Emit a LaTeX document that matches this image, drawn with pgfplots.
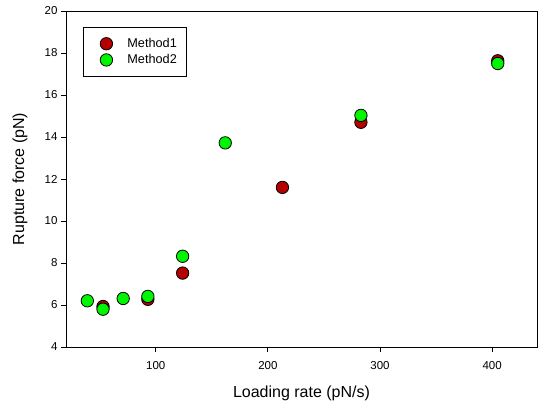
\documentclass[border=0pt]{standalone}
\usepackage{pgfplots}
\pgfplotsset{compat=1.18}
\usepackage{fontspec}
\setmainfont{Liberation Sans}

\definecolor{mredfill}{RGB}{180,0,0}
\definecolor{mgreenfill}{RGB}{0,245,0}

% a single marker, with some room on its left, as the legend symbol
\pgfplotsset{
  dotlegend/.style={
    legend image code/.code={
      \path[draw=none, fill=none] (0pt,-5pt) rectangle (22pt,5pt);
      \draw[##1] plot coordinates {(15pt,0pt)};
    }
  }
}

\begin{document}
\begin{tikzpicture}
% fixed page frame around the axis box
\path[use as bounding box] (-66pt,-60pt) rectangle (473pt,347pt);
\begin{axis}[
  at={(0,0)}, anchor=south west,
  scale only axis,
  width=471pt, height=336pt,
  xmin=20, xmax=440,
  ymin=4, ymax=20,
  xtick={100,200,300,400},
  ytick={4,6,...,20},
  tick align=outside,
  xtick pos=bottom, ytick pos=left,
  major tick length=5pt,
  axis line style={line width=0.8pt},
  every tick/.style={black, line width=0.8pt},
  tick label style={font=\fontsize{11.5}{13}\selectfont},
  xticklabel style={yshift=-6pt},
  /pgf/number format/assume math mode=true,
  xlabel={Loading rate (pN/s)},
  ylabel={Rupture force (pN)},
  label style={font=\fontsize{16}{19}\selectfont},
  xlabel style={at={(axis description cs:0.5,0)}, anchor=north, yshift=-35.5pt},
  ylabel style={at={(axis description cs:0,0.5)}, anchor=center, yshift=46pt},
  legend style={
    at={(0,1)}, anchor=north west, xshift=17pt, yshift=-16pt,
    draw=black, line width=0.8pt,
    inner xsep=8pt, inner ysep=9pt,
    font=\fontsize{12.7}{14}\selectfont,
    row sep=1.5pt, column sep=12pt,
  },
  legend cell align=left,
]
\addplot[only marks, mark=*, mark size=6.2pt,
  mark options={fill=mredfill, draw=black, line width=0.8pt}, dotlegend]
  coordinates {
  (53,5.93) (93,6.27) (124,7.52) (213,11.6) (283,14.7) (405,17.63)
};
\addlegendentry{Method1}
\addplot[only marks, mark=*, mark size=6.2pt,
  mark options={fill=mgreenfill, draw=black, line width=0.8pt}, dotlegend]
  coordinates {
  (39,6.2) (53,5.8) (71,6.31) (93,6.41) (124,8.32) (162,13.72) (283,15.03) (405,17.5)
};
\addlegendentry{Method2}
\end{axis}
\end{tikzpicture}
\end{document}
